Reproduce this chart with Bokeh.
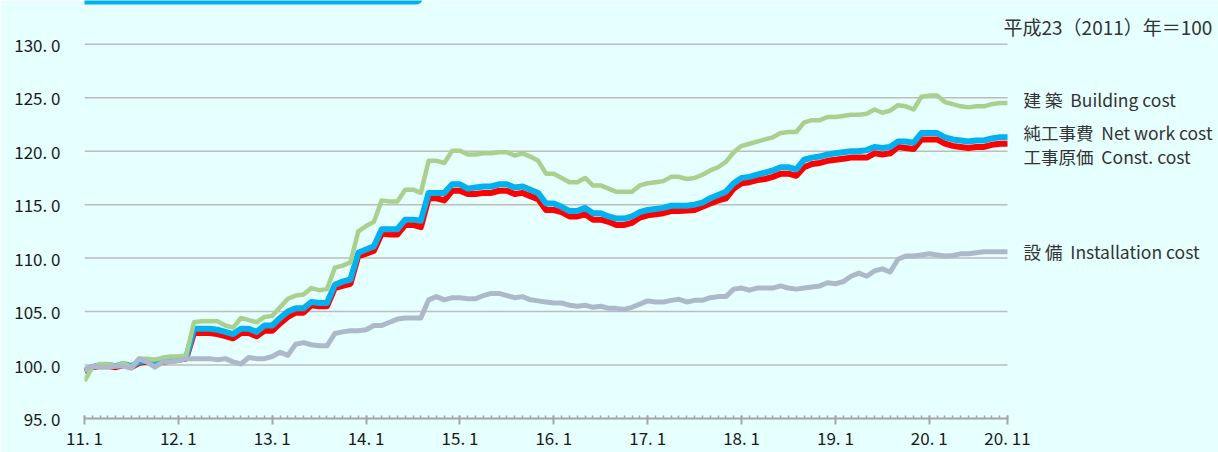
from bokeh.plotting import figure
from bokeh.models import FixedTicker, Label, Range1d, BoxAnnotation
from bokeh.embed import file_html
from bokeh.resources import INLINE

# ---- data (monthly, 2011.1 - 2020.11), 2011 = 100 ----
months = [f"{y % 100}.{m}" for y in range(2011, 2021) for m in range(1, 13)][:119]

building = [98.5, 99.8, 100.1, 100.1, 99.9, 100.2, 99.8, 100.6, 100.6, 100.5, 100.7, 100.8,
            100.8, 100.9, 104.0, 104.1, 104.1, 104.1, 103.7, 103.5, 104.4, 104.2, 104.0, 104.5,
            104.6, 105.4, 106.2, 106.5, 106.6, 107.2, 107.0, 107.1, 109.1, 109.3, 109.6, 112.5,
            113.0, 113.4, 115.4, 115.3, 115.3, 116.4, 116.4, 116.1, 119.1, 119.1, 118.9, 120.05,
            120.05, 119.7, 119.7, 119.8, 119.8, 119.9, 119.9, 119.6, 119.8, 119.5, 119.1, 117.9,
            117.9, 117.5, 117.1, 117.1, 117.5, 116.8, 116.8, 116.5, 116.2, 116.2, 116.2, 116.8,
            117.0, 117.1, 117.2, 117.6, 117.6, 117.4, 117.5, 117.8, 118.2, 118.5, 119.0, 119.9,
            120.5, 120.7, 120.9, 121.1, 121.3, 121.7, 121.8, 121.8, 122.7, 122.9, 122.9, 123.2,
            123.2, 123.3, 123.4, 123.4, 123.5, 123.9, 123.6, 123.8, 124.3, 124.2, 123.9, 125.1,
            125.2, 125.2, 124.6, 124.4, 124.2, 124.1, 124.2, 124.2, 124.4, 124.5, 124.5]

net_work = [99.5, 99.8, 100.0, 100.0, 99.9, 100.1, 99.9, 100.3, 100.4, 100.2, 100.4, 100.5,
            100.6, 100.7, 103.4, 103.4, 103.4, 103.3, 103.1, 102.9, 103.4, 103.4, 103.1, 103.7,
            103.7, 104.4, 105.0, 105.3, 105.3, 105.9, 105.8, 105.8, 107.5, 107.8, 108.0, 110.5,
            110.8, 111.1, 112.7, 112.7, 112.7, 113.6, 113.6, 113.5, 116.1, 116.1, 116.1, 116.9,
            116.9, 116.5, 116.6, 116.7, 116.7, 116.9, 116.9, 116.6, 116.7, 116.4, 116.1, 115.1,
            115.1, 114.8, 114.4, 114.4, 114.7, 114.2, 114.2, 113.9, 113.7, 113.7, 113.9, 114.3,
            114.5, 114.6, 114.7, 114.9, 114.9, 114.9, 115.0, 115.2, 115.6, 115.9, 116.2, 117.0,
            117.5, 117.6, 117.8, 118.0, 118.2, 118.5, 118.5, 118.3, 119.2, 119.4, 119.5, 119.7,
            119.8, 119.9, 120.0, 120.0, 120.1, 120.4, 120.3, 120.4, 120.9, 120.9, 120.8, 121.7,
            121.7, 121.7, 121.3, 121.1, 121.0, 120.9, 121.0, 121.0, 121.2, 121.3, 121.3]

const_cost = [99.4, 99.8, 99.9, 99.9, 99.8, 100.0, 99.8, 100.2, 100.3, 100.1, 100.3, 100.4,
              100.5, 100.6, 103.0, 103.0, 103.0, 102.9, 102.7, 102.5, 103.0, 103.0, 102.7, 103.2,
              103.2, 103.9, 104.5, 104.9, 104.9, 105.6, 105.5, 105.5, 107.2, 107.4, 107.6, 110.2,
              110.4, 110.7, 112.3, 112.2, 112.2, 113.1, 113.1, 112.9, 115.6, 115.6, 115.4, 116.3,
              116.3, 116.0, 116.0, 116.1, 116.1, 116.3, 116.3, 116.0, 116.1, 115.8, 115.5, 114.5,
              114.5, 114.3, 113.9, 113.9, 114.1, 113.6, 113.6, 113.4, 113.1, 113.1, 113.3, 113.8,
              114.0, 114.1, 114.2, 114.4, 114.4, 114.45, 114.5, 114.8, 115.1, 115.4, 115.6, 116.5,
              117.0, 117.1, 117.3, 117.4, 117.6, 117.9, 117.9, 117.7, 118.5, 118.8, 118.9, 119.1,
              119.2, 119.3, 119.4, 119.4, 119.4, 119.8, 119.7, 119.8, 120.4, 120.3, 120.2, 121.1,
              121.1, 121.1, 120.7, 120.5, 120.4, 120.3, 120.4, 120.4, 120.6, 120.7, 120.7]

installation = [99.5, 99.9, 99.8, 99.8, 99.9, 99.9, 99.7, 100.6, 100.3, 99.8, 100.3, 100.3,
                100.4, 100.6, 100.6, 100.6, 100.6, 100.5, 100.6, 100.3, 100.1, 100.7, 100.6, 100.6,
                100.8, 101.2, 100.9, 101.95, 102.1, 101.9, 101.8, 101.8, 102.95, 103.1, 103.2, 103.2,
                103.3, 103.7, 103.7, 104.0, 104.3, 104.4, 104.4, 104.4, 106.1, 106.4, 106.1, 106.3,
                106.3, 106.2, 106.2, 106.5, 106.7, 106.7, 106.5, 106.3, 106.4, 106.1, 106.0, 105.9,
                105.8, 105.8, 105.6, 105.5, 105.6, 105.4, 105.5, 105.3, 105.3, 105.2, 105.4, 105.7,
                106.0, 105.9, 105.9, 106.05, 106.15, 105.9, 106.05, 106.05, 106.3, 106.4, 106.4, 107.1,
                107.2, 107.0, 107.2, 107.2, 107.2, 107.4, 107.2, 107.1, 107.2, 107.3, 107.4, 107.7,
                107.6, 107.8, 108.3, 108.6, 108.3, 108.8, 109.0, 108.7, 109.9, 110.2, 110.2, 110.3,
                110.4, 110.3, 110.2, 110.25, 110.4, 110.4, 110.5, 110.6, 110.6, 110.6, 110.6]

x_tick_labels = ["11. 1", "12. 1", "13. 1", "14. 1", "15. 1", "16. 1", "17. 1",
                 "18. 1", "19. 1", "20. 1", "20. 11"]
y_ticks = [95, 100, 105, 110, 115, 120, 125, 130]
y_tick_labels = ["95. 0", "100. 0", "105. 0", "110. 0", "115. 0", "120. 0", "125. 0", "130. 0"]

series_labels = ["建 築\u00a0 Building cost", "純工事費\u00a0 Net work cost",
                 "工事原価\u00a0 Const. cost", "設 備\u00a0 Installation cost"]
note_text = "平成23（2011）年＝100"

# ---- styling / layout ----
BG = "#E6FFFF"
FONT = "Noto Sans CJK JP"
idx = list(range(len(months)))
last = len(months) - 1
x_major = [i for i, m in enumerate(months) if m.endswith(".1")] + [last]

W, H = 1218, 452
LEFT, BOTTOM = 84, 32
PX_PER_MONTH = 7.822
PX_PER_UNIT = 10.743
x_end = (W - LEFT) / PX_PER_MONTH
y_top = 95 + (H - BOTTOM) / PX_PER_UNIT

p = figure(width=W, height=H,
           x_range=Range1d(0, x_end), y_range=Range1d(95, y_top),
           output_backend="svg", toolbar_location=None,
           min_border_left=LEFT, min_border_right=0, min_border_top=0, min_border_bottom=BOTTOM,
           background_fill_color=BG, border_fill_color=BG, outline_line_color=None)

# x axis
xa = p.xaxis[0]
xa.bounds = (0, last)
xa.ticker = FixedTicker(ticks=x_major, minor_ticks=idx)
xa.major_label_overrides = {t: lab for t, lab in zip(x_major, x_tick_labels)}
xa.axis_line_color = "#A6A6A6"
xa.axis_line_width = 2
xa.major_tick_line_color = "#A6A6A6"
xa.major_tick_line_width = 2
xa.major_tick_in = 3
xa.major_tick_out = 6
xa.minor_tick_line_color = "#A6A6A6"
xa.minor_tick_line_width = 1.5
xa.minor_tick_in = 3
xa.minor_tick_out = 0
xa.major_label_standoff = 0
xa.major_label_text_font = FONT
xa.major_label_text_font_size = "17px"
xa.major_label_text_color = "#1A1A1A"

# y axis
ya = p.yaxis[0]
ya.ticker = FixedTicker(ticks=y_ticks)
ya.major_label_overrides = {t: lab for t, lab in zip(y_ticks, y_tick_labels)}
ya.axis_line_color = None
ya.major_tick_line_color = None
ya.minor_tick_line_color = None
ya.major_tick_out = 0
ya.major_tick_in = 0
ya.major_label_standoff = 24
ya.major_label_text_font = FONT
ya.major_label_text_font_size = "17px"
ya.major_label_text_color = "#1A1A1A"

# grid lines only across the data span
p.xgrid.grid_line_color = None
p.ygrid.grid_line_color = None
grid_y = y_ticks[1:]
p.segment(x0=[idx[0]] * len(grid_y), x1=[last] * len(grid_y), y0=grid_y, y1=grid_y,
          line_color="#BDBDBD", line_width=1.5)

# series lines
p.line(idx, const_cost, line_color="#FF0000", line_width=6, line_join="round")
p.line(idx, net_work, line_color="#00B0F0", line_width=6, line_join="round")
p.line(idx, building, line_color="#A9D18E", line_width=4.5, line_join="round")
p.line(idx, installation, line_color="#ADB9CA", line_width=5, line_join="round")

# series labels at the right
label_y = [124.88, 121.72, 119.48, 110.64]
for txt, yy in zip(series_labels, label_y):
    p.add_layout(Label(x=120.05, y=yy, text=txt, text_font=FONT,
                       text_font_size="17.5px", text_color="#333333",
                       text_baseline="middle", text_align="left"))

p.add_layout(Label(x=117.49, y=131.68, text=note_text, text_font=FONT,
                   text_font_size="19px", text_color="#333333",
                   text_baseline="middle", text_align="left"))

# header bar at the top
p.add_layout(BoxAnnotation(left=-12, right=(422 - LEFT) / PX_PER_MONTH,
                           top=y_top + 1, bottom=y_top - 4 / PX_PER_UNIT,
                           fill_color="#00B0F0", fill_alpha=1.0, line_color=None,
                           border_radius=(0, 0, 6, 0)))

open("out.html", "w").write(file_html(p, INLINE))
